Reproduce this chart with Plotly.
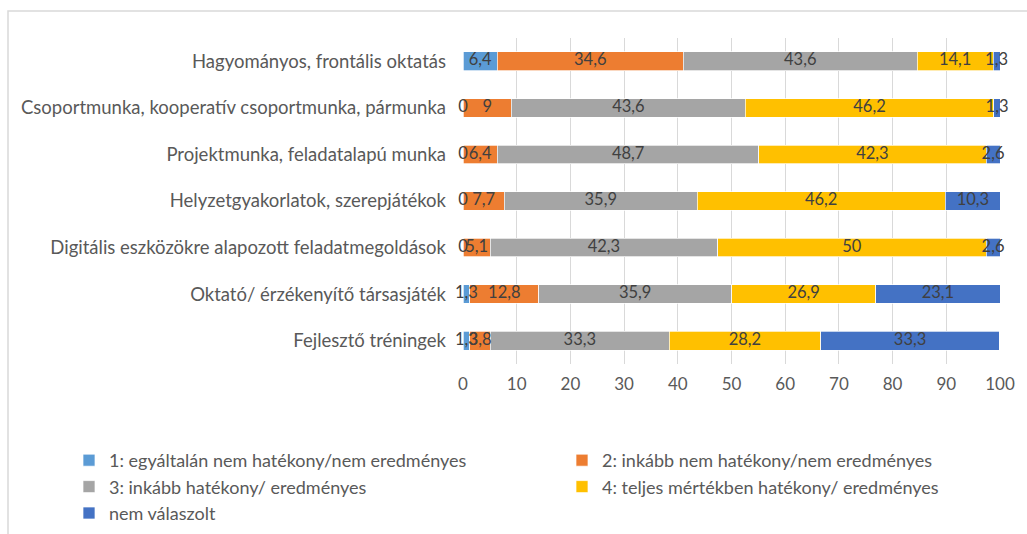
import plotly.graph_objects as go

categories = [
    "Hagyományos, frontális oktatás",
    "Csoportmunka, kooperatív csoportmunka, pármunka",
    "Projektmunka, feladatalapú munka",
    "Helyzetgyakorlatok, szerepjátékok",
    "Digitális eszközökre alapozott feladatmegoldások",
    "Oktató/ érzékenyítő társasjáték",
    "Fejlesztő tréningek",
]
series_names = [
    "1: egyáltalán nem hatékony/nem eredményes",
    "2: inkább nem hatékony/nem eredményes",
    "3: inkább hatékony/ eredményes",
    "4: teljes mértékben hatékony/ eredményes",
    "nem válaszolt",
]
s1 = [6.4, 0, 0, 0, 0, 1.3, 1.3]
s2 = [34.6, 9, 6.4, 7.7, 5.1, 12.8, 3.8]
s3 = [43.6, 43.6, 48.7, 35.9, 42.3, 35.9, 33.3]
s4 = [14.1, 46.2, 42.3, 46.2, 50, 26.9, 28.2]
s5 = [1.3, 1.3, 2.6, 10.3, 2.6, 23.1, 33.3]
x_ticks = [0, 10, 20, 30, 40, 50, 60, 70, 80, 90, 100]

colors = ["#5B9BD5", "#ED7D31", "#A5A5A5", "#FFC000", "#4472C4"]
FONT = "Lato"
TXT = "#595959"
LBL = "#404040"

W, H = 1027, 534
ML, MR, MT, MB = 463, 27, 38, 170
PW, PH = W - ML - MR, H - MT - MB


def fmt(v):
    return ("%g" % v).replace(".", ",")


all_series = [s1, s2, s3, s4, s5]

fig = go.Figure()
for name, vals, col in zip(series_names, all_series, colors):
    fig.add_trace(go.Bar(
        y=categories, x=vals, name=name, orientation="h",
        marker=dict(color=col, line=dict(color="white", width=0.7)),
        width=0.4,
        hoverinfo="skip",
    ))

# data labels drawn above all bars (like the original), centred in each segment
lab_x, lab_y, lab_t = [], [], []
base = [0.0] * len(categories)
for vals in all_series:
    for i, v in enumerate(vals):
        lab_x.append(base[i] + v / 2.0)
        lab_y.append(categories[i])
        lab_t.append(fmt(v))
        base[i] += v

fig.add_trace(go.Scatter(
    x=lab_x, y=lab_y, text=lab_t, mode="text", textposition="middle center",
    textfont=dict(family=FONT, size=16.5, color=LBL),
    showlegend=False, hoverinfo="skip", cliponaxis=False,
))


def px_x(p):
    return (p - ML) / PW


def px_y(p):
    return (MT + PH - p) / PH


fig.update_layout(
    width=W, height=H,
    margin=dict(l=ML, r=MR, t=MT, b=MB, autoexpand=False),
    barmode="stack",
    plot_bgcolor="white", paper_bgcolor="white",
    font=dict(family=FONT, color=TXT, size=16),
    xaxis=dict(range=[0, 100], tickvals=x_ticks, showgrid=True, gridcolor="#D9D9D9",
               gridwidth=1, zeroline=False, showline=False, ticks="",
               ticklabelstandoff=8,
               tickfont=dict(family=FONT, size=17, color=TXT), fixedrange=True),
    yaxis=dict(autorange="reversed", showgrid=False, ticks="", showline=False,
               ticklabelstandoff=16, fixedrange=True,
               tickfont=dict(family=FONT, size=18.5, color=TXT)),
    legend=dict(orientation="h", x=px_x(69), xanchor="left", y=px_y(442), yanchor="top",
                entrywidth=448, traceorder="normal",
                font=dict(family=FONT, size=18, color=TXT), itemclick=False,
                itemdoubleclick=False),
    shapes=[dict(type="rect", xref="paper", yref="paper",
                 x0=px_x(8), x1=px_x(1060), y0=px_y(11), y1=px_y(600),
                 line=dict(color="#D9D9D9", width=1.5), fillcolor="rgba(0,0,0,0)",
                 layer="below")],
    showlegend=True,
)

fig.write_html("out.html", config={"displayModeBar": False},
               post_script="document.body.style.margin='0';document.body.style.overflow='hidden';")
